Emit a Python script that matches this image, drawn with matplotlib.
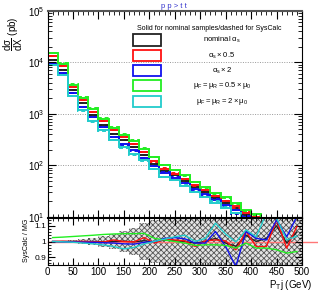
import numpy as np
import matplotlib
matplotlib.use('Agg')
import matplotlib.pyplot as plt
from matplotlib.patches import Rectangle

plt.rcParams['font.family'] = ['Liberation Sans', 'DejaVu Sans']
plt.rcParams['mathtext.default'] = 'regular'
plt.rcParams['hatch.linewidth'] = 0.6

# bins of 20 GeV from 0 to 500
edges = np.arange(0, 520, 20)
centers = edges[:-1] + 10

# solid = nominal samples (pb)
nominal = [10940, 7000, 2860, 1649, 964, 617, 400, 306, 227, 156, 108, 77.5, 64,
           48.9, 37.4, 29.9, 22.9, 18.7, 14.6, 10.7, 8.9, 5.8, 4.4, 3.5, 2.8]
alphas_half = [13080, 8480, 3315, 1829, 1084, 715, 478, 350, 264, 181, 120, 86, 69,
               54.7, 40.9, 32.7, 25, 20.5, 16, 11.7, 9.8, 6.4, 5, 3.9, 3.2]
alphas_two = [9440, 6200, 2535, 1356, 867, 554, 355, 256, 195, 139, 96.9, 72.1, 57.7,
              44.7, 34.2, 27.4, 20.9, 16.7, 13.4, 9.8, 8.0, 5.2, 4, 3.1, 2.5]
mu_half = [15160, 9440, 3690, 2028, 1262, 792, 540, 394, 296, 205, 143, 102, 80,
           64, 47.9, 37.4, 29, 23.9, 18.3, 13.4, 11.2, 7.5, 5.8, 4.6, 3.8]
mu_two = [9020, 5595, 2218, 1169, 715, 478, 315, 227, 169, 125, 86.3, 59.3, 51.2,
          40, 29.9, 23.9, 18.3, 14.6, 11.7, 8.5, 7, 4.5, 3.5, 2.7, 2.2]

# SysCalc / MG ratios
r_nominal = [1.0, 1.0, 1.0, 0.999, 1.0, 0.998, 1.0, 1.002, 0.998, 1.005, 0.995, 1.01, 1.005,
             1.0, 0.99, 1.0, 1.02, 0.99, 0.97, 1.04, 1.0, 1.02, 1.1, 0.99, 1.06]
r_alphas_half = [1.0, 1.002, 1.0, 1.001, 0.998, 0.997, 1.01, 1.0, 0.998, 1.025, 0.99, 1.015, 1.01,
                 1.004, 0.968, 1.004, 1.01, 1.004, 0.947, 1.064, 0.968, 0.968, 1.138, 0.958, 1.096]
r_alphas_two = [1.0, 0.998, 0.997, 0.996, 0.995, 0.992, 0.99, 0.985, 0.983, 0.995, 1.0, 1.02, 1.025,
                1.017, 0.99, 0.99, 1.064, 0.968, 0.84, 1.064, 1.02, 1.01, 1.138, 1.03, 1.16]
r_mu_half = [1.025, 1.028, 1.032, 1.036, 1.04, 1.045, 1.048, 1.05, 1.05, 1.052, 1.02, 1.01, 1.0,
             0.99, 0.975, 0.979, 0.979, 0.975, 0.958, 0.99, 0.958, 0.958, 0.947, 0.926, 0.936]
r_mu_two = [1.0, 0.998, 0.995, 0.99, 0.985, 0.978, 0.968, 0.953, 0.962, 0.985, 1.0, 1.015, 1.03,
            1.04, 1.0, 1.02, 1.117, 1.047, 0.996, 1.074, 1.03, 1.18, 1.149, 1.01, 1.035]

# statistical band half width
band = [0.002, 0.004, 0.008, 0.013, 0.022, 0.032, 0.045, 0.065, 0.085, 0.12, 0.14, 0.15, 0.17,
        0.2, 0.25, 0.3, 0.3, 0.3, 0.3, 0.3, 0.3, 0.3, 0.3, 0.3, 0.3]

labels = [r'nominal $\alpha_s$', r'$\alpha_s \times 0.5$', r'$\alpha_s \times 2$',
          r'$\mu_F = \mu_R = 0.5 \times \mu_0$', r'$\mu_F = \mu_R = 2 \times \mu_0$']
colors = ['#222222', '#ff1111', '#1111ee', '#22ee22', '#22cccc']
series = [nominal, alphas_half, alphas_two, mu_half, mu_two]
ratios = [r_nominal, r_alphas_half, r_alphas_two, r_mu_half, r_mu_two]

W, H = 318, 291
fig = plt.figure(figsize=(W / 100, H / 100), dpi=100)
ax = fig.add_axes([47.5 / W, 1 - 218 / H, 254.5 / W, 207 / H])
axr = fig.add_axes([47.5 / W, 1 - 265 / H, 254.5 / W, 47 / H], sharex=ax)

# main panel
for vals, rat, col in zip(series, ratios, colors):
    vals = np.array(vals)
    ax.stairs(vals, edges, color=col, lw=1.4, baseline=1e-3)
    ax.stairs(vals * np.array(rat), edges, color=col, lw=1.4, ls=(0, (2, 1.5)), baseline=1e-3)

ax.set_yscale('log')
ax.set_ylim(9.5, 1e5)
ax.set_xlim(0, 500)
for v in [1e2, 1e3, 1e4]:
    ax.axhline(v, color='#999999', lw=0.7, ls=(0, (1, 1.5)), zorder=0)
ax.tick_params(which='both', direction='in', top=True, right=True, labelbottom=False,
               labelsize=7, pad=2)
ax.tick_params(which='major', length=6)
ax.tick_params(which='minor', length=3)
ax.spines['top'].set_color('#555555')
ax.spines['top'].set_linewidth(1.5)
ax.spines['bottom'].set_linewidth(1.5)

# ratio panel
lo = 1 - np.array(band)
hi = 1 + np.array(band)
axr.fill_between(edges, np.append(lo, lo[-1]), np.append(hi, hi[-1]), step='post',
                 facecolor='#e4e4e4', edgecolor='#555555', hatch='xxxxxx', lw=0)
axr.plot([0, 535], [1, 1], color='#ff7777', lw=1, clip_on=False, zorder=1)
for rat, col in zip(ratios, colors):
    axr.plot(centers, rat, color=col, lw=1)
axr.set_ylim(0.85, 1.15)
axr.set_xlim(0, 500)
axr.set_yticks([0.9, 1.0, 1.1])
axr.set_yticklabels(['0.9', '1', '1.1'])
axr.set_yticks(np.arange(0.86, 1.15, 0.02), minor=True)
axr.set_xticks(np.arange(0, 501, 50))
axr.set_xticks(np.arange(0, 501, 10), minor=True)
axr.tick_params(which='both', direction='in', top=True, right=True, labelsize=7, pad=1.5)
axr.tick_params(axis='y', labelsize=6, pad=1)
axr.tick_params(which='major', length=5)
axr.tick_params(which='minor', length=2.5)

# titles and axis labels
fig.text(174 / W, 1 - 6 / H, 'p p > t t', color='#3333cc', fontsize=5.5, ha='center', va='center')
fig.text(13 / W, 1 - 16 / H, r'$\dfrac{d\sigma}{dX}$ (pb)', rotation=90, fontsize=7,
         ha='center', va='top')
fig.text(27 / W, 1 - 240 / H, 'SysCalc / MG', rotation=90, fontsize=5, ha='center', va='center')
fig.text(312 / W, 1 - 285 / H, r'P$_T$j (GeV)', fontsize=7, ha='right', va='center')

# legend drawn by hand
fig.text(209 / W, 1 - 29 / H, 'Solid for nominal samples/dashed for SysCalc', fontsize=5,
         ha='center', va='center')
rows = [(34, 46), (50, 61), (65, 76), (80, 91), (96, 107)]
for (y0, y1), lab, col in zip(rows, labels, colors):
    fig.patches.append(Rectangle((133 / W, 1 - y1 / H), 28 / W, (y1 - y0) / H,
                                 transform=fig.transFigure, fill=False, edgecolor=col, lw=1.3))
    fig.text(222 / W, 1 - (y0 + y1) / 2 / H, lab, fontsize=5.5, ha='center', va='center')

fig.savefig('out.png', dpi=100)
